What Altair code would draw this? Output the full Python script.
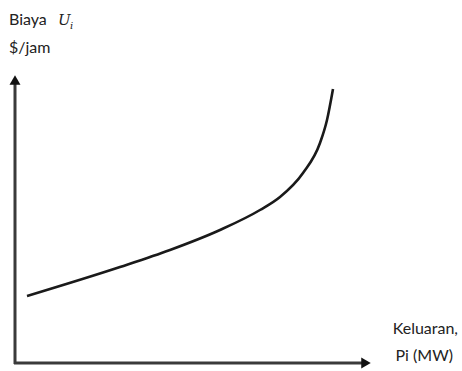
import altair as alt
import pandas as pd

# Cost curve (output Pi vs hourly cost), arbitrary units
output_mw = [12, 105, 155, 205, 245, 265, 288, 305, 312, 318]
cost_per_hour = [67, 96, 113, 133, 153, 166, 190, 220, 243, 274]

curve = pd.DataFrame({"x": output_mw, "y": cost_per_hour})

W, H = 462, 371
xs = alt.Scale(domain=[-15, W - 15], nice=False, zero=False)
ys = alt.Scale(domain=[-8, H - 8], nice=False, zero=False)

line = alt.Chart(curve).mark_line(color="#1a1a1a", strokeWidth=2.6, interpolate="monotone").encode(
    x=alt.X("x:Q", scale=xs, axis=None),
    y=alt.Y("y:Q", scale=ys, axis=None),
)

base = alt.Chart(pd.DataFrame({"a": [0]}))

yaxis = base.mark_rule(color="#3a3a3a", strokeWidth=3).encode(
    x=alt.value(15), y=alt.value(364), y2=alt.value(84))
xaxis = base.mark_rule(color="#3a3a3a", strokeWidth=3).encode(
    x=alt.value(14), x2=alt.value(364), y=alt.value(363))
yarrow = base.mark_point(shape="triangle-up", filled=True, color="#111111", size=120, opacity=1).encode(
    x=alt.value(15), y=alt.value(80))
xarrow = base.mark_point(shape="triangle-right", filled=True, color="#111111", size=120, opacity=1).encode(
    x=alt.value(366), y=alt.value(363))

font = "Lato"
def label(txt, x, y, align="left", size=16, style="normal", family=font):
    return base.mark_text(text=txt, align=align, baseline="alphabetic", fontSize=size,
                          font=family, fontStyle=style, color="#222222").encode(
        x=alt.value(x), y=alt.value(y))

texts = [
    label("Biaya", 9, 25),
    label("U", 58, 25, style="italic", family="DejaVu Serif", size=15),
    label("i", 70, 29, style="italic", family="DejaVu Serif", size=10),
    label("$/jam", 9, 53),
    label("Keluaran,", 458, 334, align="right"),
    label("Pi (MW)", 453, 361, align="right"),
]

chart = alt.layer(line, yaxis, xaxis, yarrow, xarrow, *texts).properties(
    width=W, height=H, padding=0, autosize=alt.AutoSizeParams(type="none")
).configure_view(strokeWidth=0)

chart.save("out.html", embed_options={"renderer": "svg", "actions": False})
